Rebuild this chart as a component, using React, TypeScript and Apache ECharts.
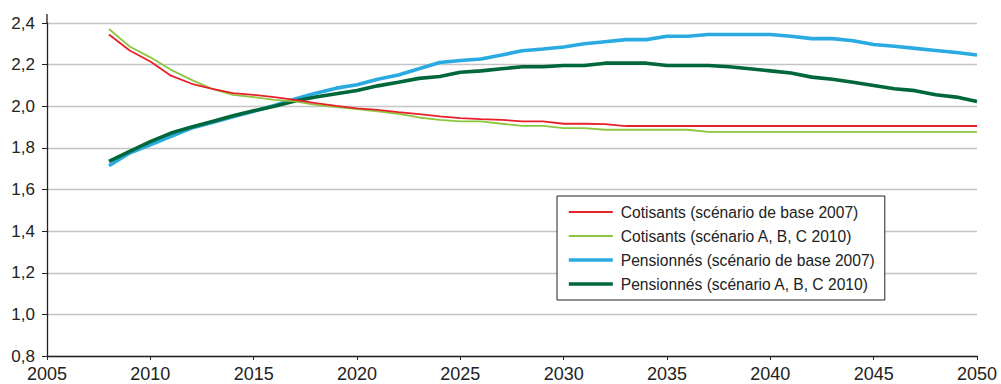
import React, { useEffect, useRef } from "react";
import * as echarts from "echarts";

const years = [
  2008, 2009, 2010, 2011, 2012, 2013, 2014, 2015, 2016, 2017, 2018, 2019, 2020, 2021, 2022,
  2023, 2024, 2025, 2026, 2027, 2028, 2029, 2030, 2031, 2032, 2033, 2034, 2035, 2036, 2037,
  2038, 2039, 2040, 2041, 2042, 2043, 2044, 2045, 2046, 2047, 2048, 2049, 2050,
];

const cotisants2007 = [
  2.345, 2.268, 2.215, 2.147, 2.108, 2.083, 2.063, 2.055, 2.044, 2.031, 2.015, 2.002, 1.99,
  1.983, 1.972, 1.962, 1.951, 1.943, 1.938, 1.935, 1.927, 1.927, 1.916, 1.916, 1.914, 1.905,
  1.905, 1.905, 1.905, 1.905, 1.905, 1.905, 1.905, 1.905, 1.905, 1.905, 1.905, 1.905, 1.905,
  1.905, 1.905, 1.905, 1.905,
];

const cotisants2010 = [
  2.371, 2.287, 2.235, 2.175, 2.127, 2.083, 2.055, 2.044, 2.031, 2.023, 2.007, 1.996, 1.986,
  1.975, 1.964, 1.946, 1.935, 1.927, 1.927, 1.916, 1.906, 1.906, 1.895, 1.895, 1.887, 1.887,
  1.887, 1.887, 1.887, 1.877, 1.877, 1.877, 1.877, 1.877, 1.877, 1.877, 1.877, 1.877, 1.877,
  1.877, 1.877, 1.877, 1.877,
];

const pensionnes2007 = [
  1.714, 1.775, 1.815, 1.855, 1.895, 1.922, 1.95, 1.976, 2.004, 2.035, 2.063, 2.087, 2.103,
  2.13, 2.15, 2.18, 2.21, 2.22, 2.227, 2.246, 2.267, 2.275, 2.285, 2.3, 2.31, 2.32, 2.32,
  2.336, 2.336, 2.345, 2.345, 2.345, 2.345, 2.336, 2.325, 2.325, 2.315, 2.297, 2.288, 2.278,
  2.268, 2.258, 2.246,
];

const pensionnes2010 = [
  1.735, 1.783, 1.83, 1.871, 1.9, 1.927, 1.954, 1.978, 2.0, 2.025, 2.044, 2.06, 2.076, 2.098,
  2.115, 2.134, 2.143, 2.163, 2.17, 2.18, 2.19, 2.19, 2.196, 2.196, 2.207, 2.207, 2.207, 2.196,
  2.196, 2.196, 2.19, 2.18, 2.17, 2.16, 2.14, 2.13, 2.115, 2.1, 2.084, 2.075, 2.055, 2.044,
  2.023,
];

const seriesNames = [
  "Cotisants (scénario de base 2007)",
  "Cotisants (scénario A, B, C 2010)",
  "Pensionnés (scénario de base 2007)",
  "Pensionnés (scénario A, B, C 2010)",
];

const xTicks = { min: 2005, max: 2050, interval: 5 };
const yTicks = { min: 0.8, max: 2.4, interval: 0.2 };

const pair = (vals: number[]) => years.map((y, i) => [y, vals[i]]);

export default function App() {
  const ref = useRef<HTMLDivElement>(null);
  useEffect(() => {
    if (!ref.current) return;
    const chart = echarts.init(ref.current, null, { renderer: "svg" });
    const font = "'Liberation Sans', Arial, Helvetica, sans-serif";
    const mk = (name: string, data: number[], color: string, width: number, z: number) => ({
      name,
      type: "line",
      data: pair(data),
      symbol: "none",
      showSymbol: false,
      z,
      lineStyle: { color, width },
      itemStyle: { color },
    });
    chart.setOption({
      animation: false,
      backgroundColor: "#ffffff",
      textStyle: { fontFamily: font },
      grid: { left: 47, right: 24, top: 23, bottom: 28, containLabel: false },
      legend: {
        orient: "vertical",
        left: 557,
        top: 196,
        padding: [8, 10, 8, 10],
        itemWidth: 44,
        itemHeight: 14,
        itemGap: 8,
        backgroundColor: "#ffffff",
        borderColor: "#222222",
        borderWidth: 1,
        borderRadius: 0,
        itemStyle: { opacity: 0 },
        lineStyle: { width: "inherit" },
        textStyle: { fontSize: 15.6, color: "#222222", fontFamily: font, padding: [0, 0, 0, 3] },
        data: seriesNames,
      },
      xAxis: {
        type: "value",
        min: xTicks.min,
        max: xTicks.max,
        interval: xTicks.interval,
        axisLine: { show: true, lineStyle: { color: "#222222", width: 1.3 } },
        axisTick: { show: true, length: 4, lineStyle: { color: "#222222" } },
        axisLabel: {
          fontSize: 18,
          color: "#222222",
          margin: 9,
          fontFamily: font,
          formatter: (v: number) => String(v),
        },
        splitLine: { show: false },
      },
      yAxis: {
        type: "value",
        min: yTicks.min,
        max: yTicks.max,
        interval: yTicks.interval,
        axisLine: { show: true, lineStyle: { color: "#222222", width: 1.3 } },
        axisTick: { show: true, length: 5, lineStyle: { color: "#222222" } },
        axisLabel: {
          fontSize: 17,
          color: "#222222",
          margin: 12,
          fontFamily: font,
          formatter: (v: number) => v.toFixed(1).replace(".", ","),
        },
        splitLine: { show: true, lineStyle: { color: "#c4c4c4", width: 1.3 } },
      },
      graphic: [
        {
          type: "line",
          shape: { x1: 47, y1: 14, x2: 47, y2: 23 },
          style: { stroke: "#222222", lineWidth: 1.3 },
        },
      ],
      series: [
        mk(seriesNames[0], cotisants2007, "#e8202a", 1.8, 4),
        mk(seriesNames[1], cotisants2010, "#8cc63f", 1.8, 3),
        mk(seriesNames[2], pensionnes2007, "#29aae1", 3.6, 2),
        mk(seriesNames[3], pensionnes2010, "#00673a", 3.6, 2),
      ],
    });
    return () => chart.dispose();
  }, []);
  return (
    <div
      ref={ref}
      style={{ position: "fixed", left: 0, top: 0, width: 1001, height: 384 }}
    />
  );
}
